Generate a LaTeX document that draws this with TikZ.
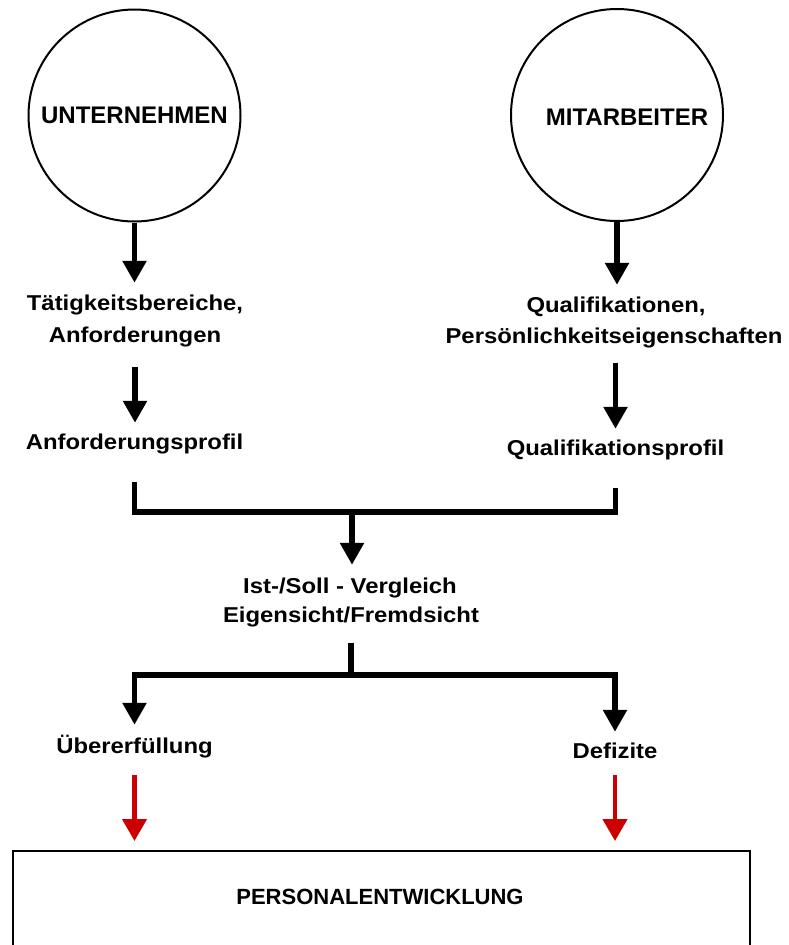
\documentclass[tikz,border=0pt]{standalone}
\usepackage{fontspec}
\setmainfont{Liberation Sans}
\newfontfamily\lblfont{Liberation Sans}[FakeStretch=1.11]
\usetikzlibrary{arrows.meta,calc}
\definecolor{arrred}{RGB}{204,0,0}
\begin{document}
\begin{tikzpicture}[x=1pt,y=-1pt,
  circ/.style={circle,draw,line width=2pt,minimum size=212pt,inner sep=0pt},
  circlbl/.style={font=\bfseries\fontsize{24}{28}\selectfont,inner sep=0pt},
  lbl/.style={font=\lblfont\bfseries\fontsize{21.5}{26}\selectfont,inner sep=0pt,anchor=base,text height=16pt,text depth=5pt},
  conn/.style={line width=5.5pt},
  arr/.style={conn,-{Triangle[width=23pt,length=22pt]}},
  redarr/.style={line width=4.5pt,arrred,-{Triangle[width=24pt,length=22pt]}},
]
\useasboundingbox (0,0) rectangle (788,945);

\node[circ,circlbl] (u) at (134.5,115.5) {UNTERNEHMEN};
\node[circ] (m) at (617,115) {};
\node[circlbl] (mt) at (627,117.5) {MITARBEITER};

\node[lbl] (t1) at (135,310) {Tätigkeitsbereiche,};
\node[lbl] (t2) at (135,342) {Anforderungen};
\node[lbl] (p1) at (134.5,449) {Anforderungsprofil};
\node[lbl] (q1) at (616,312) {Qualifikationen,};
\node[lbl] (q2) at (614,343) {Persönlichkeitseigenschaften};
\node[lbl] (q3) at (615.5,455) {Qualifikationsprofil};
\node[lbl] (v1) at (350,593) {Ist-/Soll - Vergleich};
\node[lbl] (v2) at (351,622) {Eigensicht/Fremdsicht};
\node[lbl] (o1) at (134.5,753) {Übererfüllung};
\node[lbl] (d1) at (615,758) {Defizite};
\node[draw,line width=2pt,minimum width=737pt,minimum height=140pt,anchor=north west,inner sep=0pt] (box) at (12,850) {};
\node[font=\bfseries\fontsize{22}{26}\selectfont,inner sep=0pt,anchor=base] (pe) at (380,904) {PERSONALENTWICKLUNG};

\draw[arr,shorten >=11pt] (u.south) -- (u.south |- t1.north);
\draw[arr,shorten >=11pt] (m.south) -- (m.south |- q1.north);
\draw[arr,shorten <=20pt,shorten >=10pt] (t2.south) -- (t2.south |- p1.north);
\draw[arr,shorten <=15pt,shorten >=10pt] (q3.north |- q2.south) -- (q3.north);

\draw[conn] ([yshift=-28pt]p1.south) -- ++(0,30) -| ([yshift=-28pt]q3.south);
\coordinate (j1) at (352,512);
\draw[arr,shorten >=12pt] (j1) -- (j1 |- v1.north);

\draw[conn] ([yshift=-16pt]v2.south) -- ++(0,32) coordinate (j2);
\draw[arr,shorten >=12pt] (j2) -| (o1.north);
\draw[arr,shorten >=10pt] (j2) -| (d1.north);

\draw[redarr,shorten <=17pt,shorten >=9pt] (o1.south) -- (o1.south |- box.north);
\draw[redarr,shorten <=12pt,shorten >=9pt] (d1.south) -- (d1.south |- box.north);
\end{tikzpicture}
\end{document}
